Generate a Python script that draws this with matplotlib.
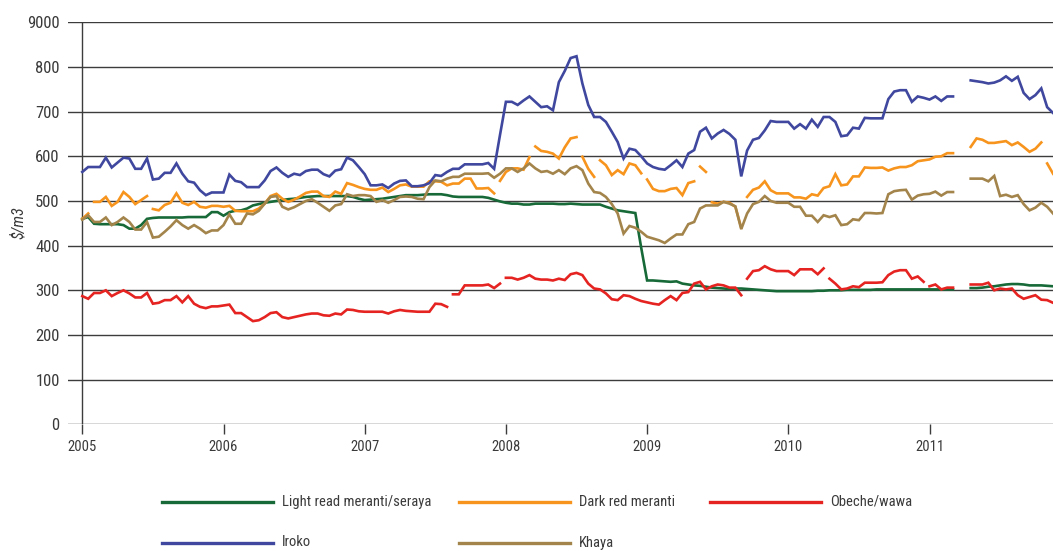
import numpy as np
import matplotlib
matplotlib.use("Agg")
import matplotlib.pyplot as plt
from matplotlib.lines import Line2D

nan = np.nan

series_names = ["Light read meranti/seraya", "Dark red meranti", "Obeche/wawa", "Iroko", "Khaya"]
series_colors = ["#176a38", "#f7941d", "#e52421", "#3f489e", "#a3844b"]

year_ticks = [2005, 2006, 2007, 2008, 2009, 2010, 2011]
y_ticks = [0, 100, 200, 300, 400, 500, 600, 700, 800, 900]
y_tick_labels = ["0", "100", "200", "300", "400", "500", "600", "700", "800", "9000"]

# semi-monthly observations starting January 2005
light_red_meranti = [
    460, 464, 449, 448, 448, 448, 448, 446, 438, 438, 446, 460, 462, 463, 463, 463, 463, 463, 464, 464,
    464, 464, 475, 475, 467, 475, 478, 479, 483, 490, 493, 496, 498, 500, 502, 504, 505, 507, 509, 510,
    511, 511, 511, 511, 511, 511, 509, 505, 502, 503, 504, 505, 507, 509, 511, 513, 513, 513, 514, 515,
    515, 515, 513, 510, 509, 509, 509, 509, 509, 507, 503, 499, 496, 494, 494, 492, 492, 494, 494, 494,
    494, 493, 493, 494, 493, 492, 492, 492, 492, 487, 483, 479, 477, 475, 473, 395, 322, 322, 321, 320,
    319, 320, 315, 313, 311, 310, 308, 306, 305, 304, 303, 304, 304, 303, 302, 301, 300, 299, 298, 298,
    298, 298, 298, 298, 298, 299, 299, 300, 300, 300, 301, 301, 301, 301, 301, 302, 302, 302, 302, 302,
    302, 302, 302, 302, 302, 302, 302, 302, 302, nan, nan, 305, 305, 306, 308, 309, 311, 313, 314, 314,
    313, 311, 311, 311, 310, 309]

dark_red_meranti = [
    460, 472, 498, 498, 509, 489, 498, 520, 509, 493, 502, 511, 482, 479, 491, 496, 517, 496, 491, 498,
    487, 485, 489, 489, 487, 489, 478, 477, 477, 477, 483, 494, 511, 516, 505, 498, 503, 510, 518, 521,
    521, 511, 509, 521, 516, 540, 536, 531, 527, 525, 525, 530, 520, 527, 535, 537, 532, 532, 532, 544,
    544, 543, 535, 539, 539, 550, 550, 528, 528, 529, 517, 545, 565, 573, 573, 570, 598, 622, 612, 610,
    606, 595, 620, 640, 643, 599, 572, 554, 591, 580, 558, 569, 560, 584, 580, 562, 548, 527, 522, 522,
    527, 529, 513, 540, 544, 577, 565, 497, 494, 498, 496, 487, 440, 509, 525, 530, 544, 524, 517, 517,
    517, 508, 508, 505, 515, 512, 529, 533, 560, 535, 537, 555, 555, 575, 574, 574, 575, 568, 573, 576,
    576, 580, 589, 591, 593, 599, 600, 607, 607, nan, nan, 621, 640, 637, 630, 630, 632, 634, 625, 631,
    621, 610, 617, 631, 584, 561]

obeche_wawa = [
    287, 281, 294, 294, 300, 287, 294, 300, 293, 284, 284, 294, 270, 272, 278, 278, 287, 273, 287, 270,
    263, 260, 264, 264, 266, 268, 249, 249, 240, 231, 233, 240, 249, 251, 240, 237, 240, 243, 246, 248,
    248, 244, 243, 248, 246, 257, 256, 253, 252, 252, 252, 252, 248, 253, 256, 254, 253, 252, 252, 252,
    270, 269, 263, 291, 291, 311, 311, 311, 311, 313, 305, 315, 328, 328, 324, 328, 334, 326, 324, 324,
    322, 326, 323, 336, 339, 334, 315, 304, 302, 293, 280, 278, 289, 287, 281, 276, 273, 270, 268, 278,
    287, 278, 294, 296, 315, 319, 302, 309, 313, 311, 306, 306, 289, 326, 343, 345, 354, 347, 343, 343,
    343, 334, 347, 347, 347, 336, 349, 326, 315, 302, 304, 309, 307, 317, 317, 317, 318, 334, 342, 345,
    345, 326, 331, 319, 309, 313, 302, 306, 306, nan, nan, 313, 313, 313, 317, 300, 304, 302, 304, 289,
    281, 285, 289, 279, 278, 272]

iroko = [
    565, 576, 576, 576, 597, 575, 586, 597, 595, 572, 572, 595, 548, 550, 563, 563, 584, 561, 544, 541,
    524, 513, 519, 519, 519, 559, 545, 542, 531, 531, 531, 546, 567, 575, 563, 554, 561, 558, 567, 570,
    570, 560, 555, 568, 571, 597, 591, 576, 560, 535, 535, 537, 529, 539, 545, 546, 533, 533, 535, 540,
    558, 556, 565, 572, 572, 582, 582, 582, 582, 585, 572, 648, 722, 722, 715, 725, 734, 722, 710, 712,
    703, 766, 791, 820, 824, 763, 715, 688, 688, 677, 655, 632, 595, 617, 614, 600, 584, 576, 572, 570,
    580, 591, 576, 606, 614, 655, 664, 640, 651, 659, 650, 637, 555, 613, 637, 641, 658, 679, 677, 677,
    677, 662, 672, 662, 682, 666, 688, 688, 677, 645, 647, 664, 662, 686, 685, 685, 685, 728, 745, 748,
    748, 722, 734, 731, 727, 734, 724, 734, 734, nan, nan, 770, 768, 766, 763, 765, 770, 779, 769, 778,
    742, 728, 737, 752, 710, 697]

khaya = [
    458, 468, 453, 453, 463, 446, 453, 463, 453, 436, 436, 453, 418, 420, 431, 443, 457, 446, 438, 446,
    438, 428, 434, 434, 446, 470, 449, 449, 472, 470, 478, 494, 509, 511, 487, 481, 486, 493, 500, 504,
    496, 487, 478, 490, 493, 515, 511, 513, 513, 511, 498, 502, 496, 502, 509, 510, 509, 505, 504, 531,
    546, 544, 550, 554, 554, 561, 561, 561, 561, 562, 552, 561, 573, 573, 565, 573, 584, 573, 565, 567,
    561, 569, 560, 573, 578, 569, 539, 520, 518, 509, 493, 472, 427, 444, 440, 431, 420, 416, 412, 406,
    416, 425, 425, 448, 453, 483, 490, 490, 490, 498, 494, 488, 437, 472, 493, 498, 511, 500, 496, 496,
    496, 487, 487, 467, 467, 453, 468, 464, 468, 446, 448, 459, 457, 473, 473, 472, 473, 515, 522, 524,
    525, 503, 512, 515, 516, 521, 512, 520, 520, nan, nan, 550, 550, 550, 544, 556, 511, 514, 509, 513,
    493, 479, 485, 496, 487, 472]

# indices after which the line segment is missing in the source chart
breaks_light_red = []
breaks_dark_red = [1, 11, 70, 76, 84, 87, 95, 104, 106, 112, 163]
breaks_obeche = [62, 71, 112, 126, 143]
breaks_iroko = []
breaks_khaya = []

all_values = [light_red_meranti, dark_red_meranti, obeche_wawa, iroko, khaya]
all_breaks = [breaks_light_red, breaks_dark_red, breaks_obeche, breaks_iroko, breaks_khaya]

W, H = 1053, 551
fig = plt.figure(figsize=(W / 100, H / 100), dpi=100)
fig.patch.set_facecolor("white")

font = ["Roboto Condensed", "Liberation Sans Narrow", "Lato", "DejaVu Sans"]
text_color = "#3a3a3a"

x_left_px, x_2005_px, x_right_px = 68.0, 82.3, 1053.0
px_per_year = 141.2
y_top_px, y_bot_px = 22.3, 424.3
xmin = year_ticks[0] - (x_2005_px - x_left_px) / px_per_year
xmax = year_ticks[0] + (x_right_px - x_2005_px) / px_per_year

ax = fig.add_axes([x_left_px / W, (H - y_bot_px) / H, (x_right_px - x_left_px) / W, (y_bot_px - y_top_px) / H])
ax.set_xlim(xmin, xmax)
ax.set_ylim(0, 900)
for s in ax.spines.values():
    s.set_visible(False)

grid_color = "#3c3c3c"
ax.set_yticks(y_ticks)
ax.set_yticklabels(y_tick_labels)
ax.yaxis.grid(True, color=grid_color, linewidth=1.0)
ax.set_axisbelow(True)
ax.tick_params(axis="y", length=0, pad=6, labelsize=12, labelcolor=text_color)
ax.set_xticks(year_ticks)
ax.set_xticklabels([str(y) for y in year_ticks])
ax.tick_params(axis="x", direction="out", length=7.5, width=1.0, color=grid_color,
               pad=4, labelsize=10.5, labelcolor=text_color)
for lab in ax.get_xticklabels() + ax.get_yticklabels():
    lab.set_family(font)
ax.axvline(year_ticks[0], color=grid_color, linewidth=1.0, zorder=1)

n = len(iroko)
xs = year_ticks[0] + np.arange(n) / 24.0


def with_breaks(x, y, breaks):
    px, py = [], []
    for i in range(len(y)):
        px.append(x[i])
        py.append(y[i])
        if i in breaks:
            px.append(nan)
            py.append(nan)
    return np.array(px, dtype=float), np.array(py, dtype=float)


for vals, brk, col in zip(all_values, all_breaks, series_colors):
    px, py = with_breaks(xs, vals, brk)
    ax.plot(px, py, color=col, linewidth=1.9, solid_joinstyle="miter", zorder=3)

fig.text(18 / W, 1 - 223 / H, "$/m3", rotation=90, ha="center", va="center",
         fontsize=11.5, color=text_color, family=font, style="italic")

# legend
leg_pos = [(161.7, 502), (459, 502), (710, 502), (161.7, 542.5), (459, 542.5)]
for (lx, ly), name, col in zip(leg_pos, series_names, series_colors):
    fig.add_artist(Line2D([lx / W, (lx + 111) / W], [1 - ly / H, 1 - ly / H],
                          transform=fig.transFigure, color=col, linewidth=2.4))
    fig.text((lx + 120) / W, 1 - ly / H, name, ha="left", va="center",
             fontsize=10.5, color=text_color, family=font)

fig.savefig("out.png", dpi=100, facecolor="white")
